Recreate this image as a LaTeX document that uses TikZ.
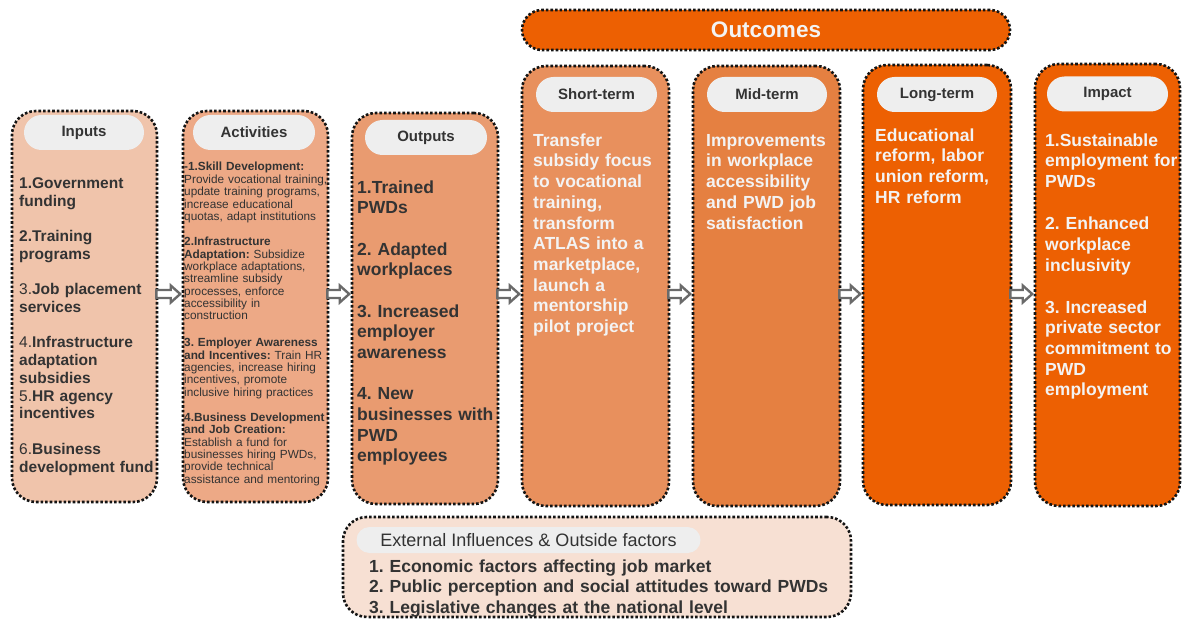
\documentclass[tikz,border=0pt]{standalone}
\usepackage{fontspec}
\setmainfont{Liberation Sans}
\usetikzlibrary{calc}

\definecolor{fillInputs}{HTML}{F0C4AB}
\definecolor{fillActivities}{HTML}{EDA986}
\definecolor{fillOutputs}{HTML}{E99B70}
\definecolor{fillShort}{HTML}{E8905D}
\definecolor{fillMid}{HTML}{E58041}
\definecolor{fillLong}{HTML}{ED6002}
\definecolor{fillExternal}{HTML}{F7E0D3}
\definecolor{pillGray}{HTML}{EEEEEE}
\definecolor{darkText}{HTML}{333333}
\definecolor{lightText}{HTML}{F3F3F3}
\definecolor{arrowGray}{HTML}{6A6A6A}

\tikzset{
  stage/.style={draw=black!92, line width=2.6pt, dash pattern=on 2.6pt off 2pt,
    rounded corners=24pt, inner sep=0pt},
  pill/.style={fill=pillGray, rounded corners=17.5pt, inner sep=0pt,
    minimum height=35pt, text=darkText, font=\bfseries\fontsize{15}{18}\selectfont},
  body/.style={anchor=base west, inner sep=0pt, align=left},
  bigbody/.style={body, font=\bfseries\fontsize{17.5}{20.7}\selectfont},
  link/.style={draw=arrowGray, fill=white, line width=2.4pt, line join=miter}
}

% hollow block arrow between two stages, on the common axis (ax)
\newcommand\flowarrow[2]{%
  \draw[link] ($(#1.east|-ax)+(-2,-4)$) -- ($(#2.west|-ax)+(-11,-4)$)
    -- ($(#2.west|-ax)+(-11,-8.5)$) -- ($(#2.west|-ax)+(-1.5,0)$)
    -- ($(#2.west|-ax)+(-11,8.5)$) -- ($(#2.west|-ax)+(-11,4)$)
    -- ($(#1.east|-ax)+(-2,4)$) -- cycle;}

\begin{document}
\frenchspacing
\begin{tikzpicture}[x=1pt,y=-1pt]
\useasboundingbox (0,0) rectangle (1183,620);
\coordinate (ax) at (0,294);

% ---- stage boxes ----
\node[stage, fill=fillInputs,     minimum width=145pt, minimum height=391pt] (inp) at (84.5,306.5) {};
\node[stage, fill=fillActivities, minimum width=145pt, minimum height=391pt] (act) at (255.5,306.5) {};
\node[stage, fill=fillOutputs,    minimum width=146pt, minimum height=391pt] (out) at (425,308.5) {};
\node[stage, fill=fillShort,      minimum width=147pt, minimum height=440pt] (st)  at (595.5,286) {};
\node[stage, fill=fillMid,        minimum width=147pt, minimum height=440pt] (mt)  at (766.5,286) {};
\node[stage, fill=fillLong,       minimum width=148pt, minimum height=440pt] (lt)  at (937,285) {};
\node[stage, fill=fillLong,       minimum width=145pt, minimum height=442pt] (imp) at (1107.5,285) {};

% ---- outcomes banner ----
\node[stage, fill=fillLong, rounded corners=20pt, minimum width=488pt, minimum height=40pt,
  text=lightText, font=\bfseries\fontsize{22.5}{26}\selectfont] (oc) at (766,30) {Outcomes};

% ---- external influences ----
\node[stage, fill=fillExternal, minimum width=508pt, minimum height=100pt] (ext) at (597,567) {};

% ---- header pills ----
\node[pill, minimum width=120pt] (inpT) at (84,132.5)   {Inputs};
\node[pill, minimum width=122pt] (actT) at (254,132.5)  {Activities};
\node[pill, minimum width=122pt] (outT) at (426,137.5)  {Outputs};
\node[pill, minimum width=121pt] (stT)  at (596.5,94.5) {Short-term};
\node[pill, minimum width=120pt] (mtT)  at (767,94.5)   {Mid-term};
\node[pill, minimum width=120pt] (ltT)  at (937,94.5)   {Long-term};
\node[pill, minimum width=121pt] (impT) at (1107.5,94)  {Impact};
\node[pill, rounded corners=13pt, minimum width=344pt, minimum height=26pt,
  font=\fontsize{18}{20}\selectfont] (extT) at (528.5,540)
  {External Influences \& Outside factors};

% ---- texts ----
\node[body, text=darkText, text width=140pt, font=\bfseries\fontsize{15.5}{17.8}\selectfont]
  (inpB) at (19,188.5) {%
  1.Government\\ funding\\[17.5pt]
  2.Training\\ programs\\[17.5pt]
  {\mdseries 3.}Job placement\\ services\\[17.5pt]
  {\mdseries 4.}Infrastructure\\ adaptation\\ subsidies\\
  {\mdseries 5.}HR agency\\ incentives\\[17.5pt]
  {\mdseries 6.}Business\\ development fund};

\node[body, text=darkText, text width=150pt, font=\fontsize{11.8}{12.35}\selectfont]
  (actB) at (184,171) {%
  \textbf{-1.Skill Development:}\\
  Provide vocational training,\\
  update training programs,\\
  increase educational\\
  quotas, adapt institutions\\[13pt]
  \textbf{2.Infrastructure}\\
  \textbf{Adaptation:} Subsidize\\
  workplace adaptations,\\
  streamline subsidy\\
  processes, enforce\\
  accessibility in\\
  construction\\[14.5pt]
  \textbf{3. Employer Awareness}\\
  \textbf{and Incentives:} Train HR\\
  agencies, increase hiring\\
  incentives, promote\\
  inclusive hiring practices\\[13pt]
  \textbf{4.Business Development}\\
  \textbf{and Job Creation:}\\
  Establish a fund for\\
  businesses hiring PWDs,\\
  provide technical\\
  assistance and mentoring};

\node[bigbody, text=darkText, text width=141pt] (outB) at (357,193.3) {%
  1.Trained\\ PWDs\\[20.5pt]
  2. Adapted\\ workplaces\\[20.5pt]
  3. Increased\\ employer\\ awareness\\[20.5pt]
  4. New\\ businesses with\\ PWD\\ employees};

\node[bigbody, text=lightText, text width=136pt] (stB) at (533,146.3) {%
  Transfer\\ subsidy focus\\ to vocational\\ training,\\ transform\\
  ATLAS into a\\ marketplace,\\ launch a\\ mentorship\\ pilot project};

\node[bigbody, text=lightText, text width=134pt] (mtB) at (706,146.3) {%
  Improvements\\ in workplace\\ accessibility\\ and PWD job\\ satisfaction};

\node[bigbody, text=lightText, text width=137pt] (ltB) at (875,141.3) {%
  Educational\\ reform, labor\\ union reform,\\ HR reform};

\node[bigbody, text=lightText, text width=142pt] (impB) at (1045,146.3) {%
  1.Sustainable\\ employment for\\ PWDs\\[21.3pt]
  2. Enhanced\\ workplace\\ inclusivity\\[21.3pt]
  3. Increased\\ private sector\\ commitment to\\ PWD\\ employment};

\node[body, text=darkText, text width=480pt, font=\bfseries\fontsize{17.5}{20.5}\selectfont]
  (extB) at (369,572.3) {%
  1. Economic factors affecting job market\\
  2. Public perception and social attitudes toward PWDs\\
  3. Legislative changes at the national level};

% ---- flow arrows ----
\flowarrow{inp}{act}
\flowarrow{act}{out}
\flowarrow{out}{st}
\flowarrow{st}{mt}
\flowarrow{mt}{lt}
\flowarrow{lt}{imp}
\end{tikzpicture}
\end{document}
